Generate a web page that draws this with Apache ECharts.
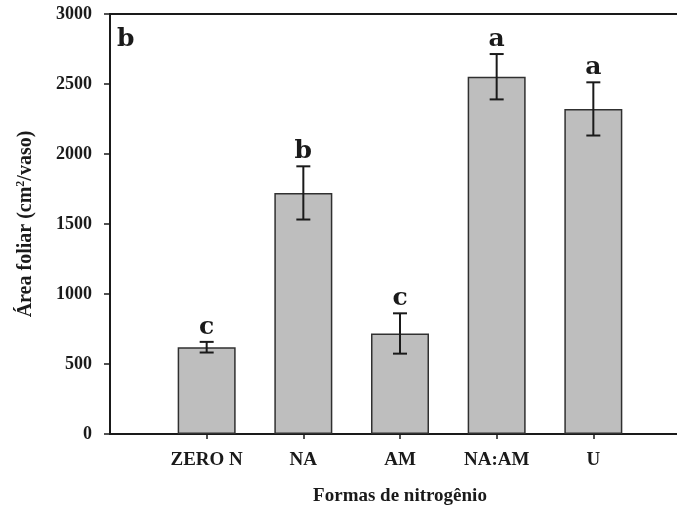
<!DOCTYPE html>
<html>
<head>
<meta charset="utf-8">
<script src="https://cdn.jsdelivr.net/npm/echarts@6/dist/echarts.min.js"></script>
<style>
  html, body { margin: 0; padding: 0; background: #fff; }
  #chart { width: 677px; height: 510px; }
</style>
</head>
<body>
<div id="chart"></div>
<script>
// Leaf area per pot for each nitrogen form
const categories = ['ZERO N', 'NA', 'AM', 'NA:AM', 'U'];
const means = [620, 1722, 718, 2552, 2322];
const errors = [38, 190, 144, 162, 190];
const letters = ['c', 'b', 'c', 'a', 'a'];
const yTicks = [0, 500, 1000, 1500, 2000, 2500, 3000];

const positions = categories.map((c, i) => i + 1);
const barData = means.map((m, i) => [positions[i], m]);
const errData = means.map((m, i) => [positions[i], m - errors[i], m + errors[i]]);

const serif = '"Liberation Serif", "DejaVu Serif", serif';
const letterFont = '"DejaVu Serif", "Liberation Serif", serif';
const ink = '#1a1a1a';

const chart = echarts.init(document.getElementById('chart'), null, { renderer: 'canvas' });

chart.setOption({
  animation: false,
  backgroundColor: '#fff',
  grid: {
    left: 110, top: 14, width: 580, height: 420,
    outerBoundsMode: 'none',
    containLabel: false,
    show: true, borderColor: ink, borderWidth: 2, backgroundColor: 'transparent'
  },
  xAxis: {
    type: 'value',
    min: 0, max: 6, interval: 1,
    name: 'Formas de nitrogênio',
    nameLocation: 'middle',
    nameGap: 53,
    nameTextStyle: { fontFamily: serif, fontWeight: 'bold', fontSize: 19, color: ink },
    axisLine: { show: true, onZero: false, lineStyle: { color: ink, width: 2 } },
    axisTick: {
      show: true, inside: false, length: 5,
      customValues: positions,
      lineStyle: { color: ink, width: 1.5 }
    },
    axisLabel: {
      customValues: positions,
      formatter: v => categories[v - 1] || '',
      margin: 17,
      fontFamily: serif, fontWeight: 'bold', fontSize: 19, color: ink
    },
    splitLine: { show: false }
  },
  yAxis: {
    type: 'value',
    min: 0, max: 3000, interval: 500,
    name: '{t|Área foliar (cm}{s|2}{t|/vaso)}',
    nameLocation: 'middle',
    nameGap: 74,
    nameRotate: 90,
    nameTextStyle: {
      rich: {
        t: { fontFamily: serif, fontWeight: 'bold', fontSize: 20, color: ink },
        s: { fontFamily: serif, fontWeight: 'bold', fontSize: 12, color: ink, verticalAlign: 'top', padding: [0, 0, 9, 0] }
      }
    },
    axisLine: { show: true, lineStyle: { color: ink, width: 2 } },
    axisTick: { show: true, inside: false, length: 6, lineStyle: { color: ink, width: 1.5 } },
    axisLabel: {
      margin: 18,
      formatter: v => (yTicks.includes(v) ? String(v) : ''),
      fontFamily: serif, fontWeight: 'bold', fontSize: 18, color: ink
    },
    splitLine: { show: false }
  },
  graphic: [{
    type: 'text',
    left: 117, top: 27,
    style: { text: 'b', fontFamily: letterFont, fontWeight: 'bold', fontSize: 25, fill: ink }
  }],
  series: [
    {
      type: 'bar',
      data: barData,
      barWidth: 58,
      itemStyle: { color: '#bebebe', borderColor: '#303030', borderWidth: 1.5 },
      z: 2
    },
    {
      type: 'custom',
      data: errData,
      z: 3,
      renderItem: (params, api) => {
        const x = api.value(0);
        const lo = api.coord([x, api.value(1)]);
        const hi = api.coord([x, api.value(2)]);
        const cap = 7;
        const line = { stroke: ink, lineWidth: 2 };
        return {
          type: 'group',
          children: [
            { type: 'line', shape: { x1: lo[0], y1: lo[1], x2: hi[0], y2: hi[1] }, style: line },
            { type: 'line', shape: { x1: hi[0] - cap, y1: hi[1], x2: hi[0] + cap, y2: hi[1] }, style: line },
            { type: 'line', shape: { x1: lo[0] - cap, y1: lo[1], x2: lo[0] + cap, y2: lo[1] }, style: line },
            {
              type: 'text',
              style: {
                text: letters[params.dataIndex],
                x: hi[0], y: hi[1] - 2,
                align: 'center', verticalAlign: 'bottom',
                fontFamily: letterFont, fontWeight: 'bold', fontSize: 25, fill: ink
              }
            }
          ]
        };
      }
    }
  ]
});
</script>
</body>
</html>
